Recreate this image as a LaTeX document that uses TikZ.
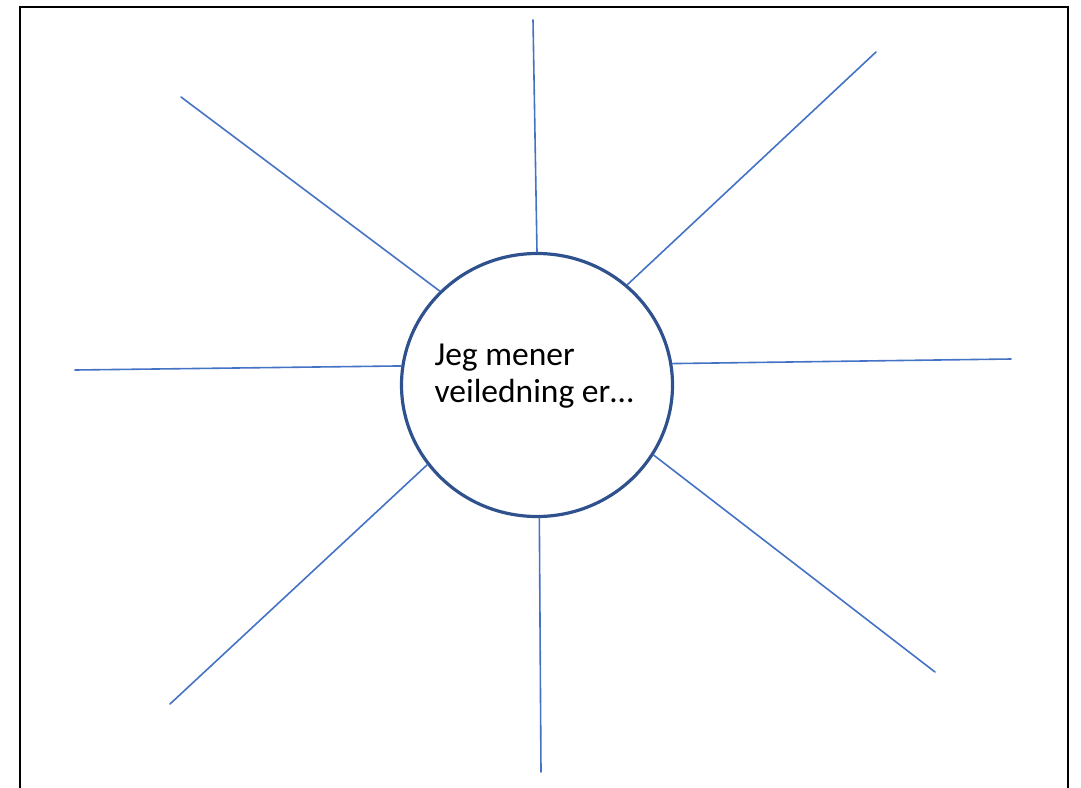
\documentclass[tikz,border=0pt]{standalone}
\usepackage{fontspec}
\setmainfont{Carlito}
\usetikzlibrary{shapes.geometric}
\definecolor{spokeblue}{HTML}{4472C4}
\definecolor{ringblue}{HTML}{2F528F}

\begin{document}
\begin{tikzpicture}[x=1pt,y=-1pt,line cap=round,
  spoke/.style={spokeblue,line width=1.6pt},
  ring/.style={ellipse,draw=ringblue,line width=3.2pt,minimum width=271pt,minimum height=263pt,inner sep=0pt}]
\useasboundingbox (0,0) rectangle (1081,787);
\clip (0,0) rectangle (1081,787);
\draw[line width=2pt] (20,7) rectangle (1068,800);
\node[ring] (c) at (537,385) {};
\node[align=left,font=\fontsize{33.5}{37.5}\selectfont] (txt) at (534,376) {Jeg mener\\veiledning er…};
\coordinate (o1) at (533,20);
\coordinate (o2) at (876,52);
\coordinate (o3) at (1011,359);
\coordinate (o4) at (935,672);
\coordinate (o5) at (541,772);
\coordinate (o6) at (170,704);
\coordinate (o7) at (75,370);
\coordinate (o8) at (181,97);
\draw[spoke] (c.90.4) -- (o1);
\draw[spoke] (c.48.9) -- (o2);
\draw[spoke] (c.9.1) -- (o3);
\draw[spoke] (c.-31.8) -- (o4);
\draw[spoke] (c.-89.6) -- (o5);
\draw[spoke] (c.216.6) -- (o6);
\draw[spoke] (c.172.5) -- (o7);
\draw[spoke] (c.136.8) -- (o8);
\end{tikzpicture}
\end{document}
